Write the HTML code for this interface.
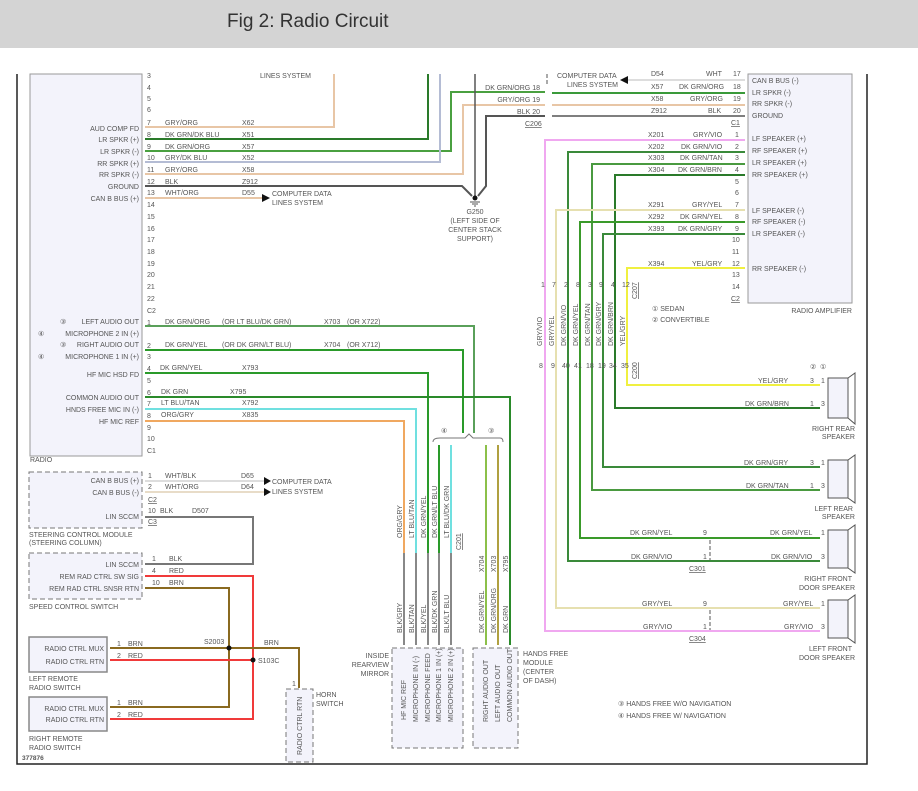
<!DOCTYPE html>
<html><head><meta charset="utf-8"><style>
html,body{margin:0;padding:0;background:#fff;}
svg{display:block;font-family:"Liberation Sans",Arial,sans-serif;}
text{font-size:7px;fill:#555;}
.e{text-anchor:end}
.w{fill:none;stroke-width:2}
</style></head><body>
<svg width="918" height="791" viewBox="0 0 918 791">
<rect x="0" y="0" width="918" height="48" fill="#d4d4d4"/>
<text x="227" y="27" style="font-size:19px;fill:#333">Fig 2: Radio Circuit</text>
<!-- frame -->
<path d="M17 74V764H867V74" fill="none" stroke="#222" stroke-width="1.5"/>
<!-- radio box -->
<rect x="30" y="74" width="112" height="382" fill="#f3f3fb" stroke="#999"/>
<text x="30" y="462">RADIO</text>
<!-- amplifier -->
<rect x="748" y="74" width="104" height="229" fill="#f3f3fb" stroke="#999"/>
<text x="852" y="313" class="e">RADIO AMPLIFIER</text>

<!-- radio C1 pins -->
<g>
<text x="147" y="78">3</text><text x="147" y="90">4</text><text x="147" y="101">5</text><text x="147" y="112">6</text>
<text x="147" y="125">7</text><text x="147" y="137">8</text><text x="147" y="149">9</text><text x="147" y="160">10</text>
<text x="147" y="172">11</text><text x="147" y="184">12</text><text x="147" y="195">13</text><text x="147" y="207">14</text>
<text x="147" y="219">15</text><text x="147" y="231">16</text><text x="147" y="242">17</text><text x="147" y="254">18</text>
<text x="147" y="266">19</text><text x="147" y="277">20</text><text x="147" y="289">21</text><text x="147" y="301">22</text>
<text x="147" y="313">C2</text>
<text x="147" y="325">1</text><text x="147" y="348">2</text><text x="147" y="359">3</text><text x="147" y="371">4</text>
<text x="147" y="383">5</text><text x="147" y="395">6</text><text x="147" y="406">7</text><text x="147" y="418">8</text>
<text x="147" y="430">9</text><text x="147" y="441">10</text><text x="147" y="453">C1</text>
</g>
<g>
<text x="139" y="131" class="e">AUD COMP FD</text>
<text x="139" y="142" class="e">LR SPKR (+)</text>
<text x="139" y="154" class="e">LR SPKR (-)</text>
<text x="139" y="166" class="e">RR SPKR (+)</text>
<text x="139" y="177" class="e">RR SPKR (-)</text>
<text x="139" y="189" class="e">GROUND</text>
<text x="139" y="201" class="e">CAN B BUS (+)</text>
<text x="139" y="324" class="e">LEFT AUDIO OUT</text>
<text x="139" y="336" class="e">MICROPHONE 2 IN (+)</text>
<text x="139" y="347" class="e">RIGHT AUDIO OUT</text>
<text x="139" y="359" class="e">MICROPHONE 1 IN (+)</text>
<text x="139" y="377" class="e">HF MIC HSD FD</text>
<text x="139" y="400" class="e">COMMON AUDIO OUT</text>
<text x="139" y="412" class="e">HNDS FREE MIC IN (-)</text>
<text x="139" y="424" class="e">HF MIC REF</text>
<text x="60" y="324">③</text><text x="38" y="336">④</text><text x="60" y="347">③</text><text x="38" y="359">④</text>
</g>
<!-- wire labels C1 -->
<g>
<text x="260" y="78">LINES SYSTEM</text>
<text x="165" y="125">GRY/ORG</text><text x="242" y="125">X62</text>
<text x="165" y="137">DK GRN/DK BLU</text><text x="242" y="137">X51</text>
<text x="165" y="149">DK GRN/ORG</text><text x="242" y="149">X57</text>
<text x="165" y="160">GRY/DK BLU</text><text x="242" y="160">X52</text>
<text x="165" y="172">GRY/ORG</text><text x="242" y="172">X58</text>
<text x="165" y="184">BLK</text><text x="242" y="184">Z912</text>
<text x="165" y="195">WHT/ORG</text><text x="242" y="195">D55</text>
<text x="272" y="196">COMPUTER DATA</text><text x="272" y="205">LINES SYSTEM</text>
<text x="165" y="324">DK GRN/ORG</text><text x="222" y="324">(OR LT BLU/DK GRN)</text><text x="324" y="324">X703</text><text x="347" y="324">(OR X722)</text>
<text x="165" y="347">DK GRN/YEL</text><text x="222" y="347">(OR DK GRN/LT BLU)</text><text x="324" y="347">X704</text><text x="347" y="347">(OR X712)</text>
<text x="160" y="370">DK GRN/YEL</text><text x="242" y="370">X793</text>
<text x="161" y="394">DK GRN</text><text x="230" y="394">X795</text>
<text x="161" y="405">LT BLU/TAN</text><text x="242" y="405">X792</text>
<text x="161" y="417">ORG/GRY</text><text x="242" y="417">X835</text>
</g>
<!-- C1 wires -->
<polyline class="w" points="145,127 334,127 334,74" stroke="#e8c6a6"/>
<polyline class="w" points="145,139 428,139 428,74" stroke="#2a7a2a"/>
<polyline class="w" points="145,151 451,151 451,92 545,92" stroke="#4aa040"/>
<polyline class="w" points="145,162 440,162 440,74" stroke="#b4bcd4"/>
<polyline class="w" points="145,174 463,174 463,105 545,105" stroke="#e8c6a6"/>
<polyline class="w" points="145,186 462,186 472,196" stroke="#555" stroke-width="1.5"/>
<polyline class="w" points="545,116 486,116 486,186 478,196" stroke="#555" stroke-width="1.5"/>
<line x1="475" y1="74" x2="475" y2="196" stroke="#555" stroke-width="1.5"/>
<circle cx="475" cy="198" r="2.5" fill="#111"/>
<path d="M470 202H480M472 204H478M474 206H476" stroke="#555"/>
<text x="475" y="214" style="text-anchor:middle">G250</text>
<text x="475" y="223" style="text-anchor:middle">(LEFT SIDE OF</text>
<text x="475" y="232" style="text-anchor:middle">CENTER STACK</text>
<text x="475" y="241" style="text-anchor:middle">SUPPORT)</text>
<polyline class="w" points="145,198 262,198" stroke="#e8c6a6"/>
<path d="M262 194L270 198L262 202Z" fill="#111"/>
<!-- C206 -->
<line x1="547" y1="74" x2="547" y2="84" stroke="#555" stroke-dasharray="4,2"/>
<text x="540" y="90" class="e">DK GRN/ORG  18</text>
<text x="540" y="102" class="e">GRY/ORG  19</text>
<text x="540" y="114" class="e">BLK  20</text>
<text x="525" y="126" style="text-decoration:underline">C206</text>
<text x="557" y="78">COMPUTER DATA</text><text x="567" y="87">LINES SYSTEM</text>
<path d="M620 80L628 76L628 84Z" fill="#111"/>
<line x1="628" y1="80" x2="745" y2="80" stroke="#ddd" stroke-width="2"/>
<line x1="552" y1="93" x2="745" y2="93" stroke="#3a9a3a" stroke-width="2"/>
<line x1="552" y1="105" x2="745" y2="105" stroke="#e8c6a6" stroke-width="2"/>
<line x1="552" y1="116" x2="745" y2="116" stroke="#555" stroke-width="1.5"/>
<text x="651" y="76">D54</text><text x="706" y="76">WHT</text><text x="733" y="76">17</text>
<text x="651" y="89">X57</text><text x="679" y="89">DK GRN/ORG</text><text x="733" y="89">18</text>
<text x="651" y="101">X58</text><text x="690" y="101">GRY/ORG</text><text x="733" y="101">19</text>
<text x="651" y="113">Z912</text><text x="708" y="113">BLK</text><text x="733" y="113">20</text>
<text x="731" y="125" style="text-decoration:underline">C1</text>
<!-- amp labels -->
<g>
<text x="752" y="83">CAN B BUS (-)</text><text x="752" y="95">LR SPKR (-)</text><text x="752" y="106">RR SPKR (-)</text><text x="752" y="118">GROUND</text>
<text x="752" y="141">LF SPEAKER (+)</text><text x="752" y="153">RF SPEAKER (+)</text><text x="752" y="165">LR SPEAKER (+)</text><text x="752" y="177">RR SPEAKER (+)</text>
<text x="752" y="213">LF SPEAKER (-)</text><text x="752" y="224">RF SPEAKER (-)</text><text x="752" y="236">LR SPEAKER (-)</text><text x="752" y="271">RR SPEAKER (-)</text>
<text x="735" y="137">1</text><text x="735" y="149">2</text><text x="735" y="160">3</text><text x="735" y="172">4</text><text x="735" y="184">5</text><text x="735" y="195">6</text>
<text x="735" y="207">7</text><text x="735" y="219">8</text><text x="735" y="231">9</text><text x="732" y="242">10</text><text x="732" y="254">11</text><text x="732" y="266">12</text>
<text x="732" y="277">13</text><text x="732" y="289">14</text><text x="731" y="301" style="text-decoration:underline">C2</text>
<text x="648" y="137">X201</text><text x="693" y="137">GRY/VIO</text>
<text x="648" y="149">X202</text><text x="681" y="149">DK GRN/VIO</text>
<text x="648" y="160">X303</text><text x="680" y="160">DK GRN/TAN</text>
<text x="648" y="172">X304</text><text x="678" y="172">DK GRN/BRN</text>
<text x="648" y="207">X291</text><text x="692" y="207">GRY/YEL</text>
<text x="648" y="219">X292</text><text x="680" y="219">DK GRN/YEL</text>
<text x="648" y="231">X393</text><text x="678" y="231">DK GRN/GRY</text>
<text x="648" y="266">X394</text><text x="692" y="266">YEL/GRY</text>
</g>
<!-- bus -->
<polyline class="w" points="745,140 545,140 545,631 820,631" stroke="#f0a8f0"/>
<polyline class="w" points="745,152 568,152 568,561 820,561" stroke="#3a8a3a"/>
<polyline class="w" points="745,164 592,164 592,490 820,490" stroke="#4a9a40"/>
<polyline class="w" points="745,175 615,175 615,408 820,408" stroke="#2a7a2a"/>
<polyline class="w" points="745,210 556,210 556,608 820,608" stroke="#e6e0b0"/>
<polyline class="w" points="745,222 580,222 580,538 820,538" stroke="#3a9a2a"/>
<polyline class="w" points="745,234 603,234 603,467 820,467" stroke="#3a8a3a"/>
<polyline class="w" points="745,268 627,268 627,385 820,385" stroke="#f0f040"/>
<g>
<text x="541" y="287">1</text><text x="552" y="287">7</text><text x="564" y="287">2</text><text x="576" y="287">8</text><text x="588" y="287">3</text><text x="599" y="287">9</text><text x="611" y="287">4</text><text x="622" y="287">12</text>
<text x="539" y="368">8</text><text x="551" y="368">9</text><text x="562" y="368">40</text><text x="574" y="368">41</text><text x="586" y="368">18</text><text x="598" y="368">19</text><text x="609" y="368">34</text><text x="621" y="368">35</text>
<text transform="translate(637,299) rotate(-90)" style="text-decoration:underline">C207</text>
<text transform="translate(637,379) rotate(-90)" style="text-decoration:underline">C200</text>
<text transform="translate(542,346) rotate(-90)">GRY/VIO</text>
<text transform="translate(554,346) rotate(-90)">GRY/YEL</text>
<text transform="translate(566,346) rotate(-90)">DK GRN/VIO</text>
<text transform="translate(578,346) rotate(-90)">DK GRN/YEL</text>
<text transform="translate(590,346) rotate(-90)">DK GRN/TAN</text>
<text transform="translate(601,346) rotate(-90)">DK GRN/GRY</text>
<text transform="translate(613,346) rotate(-90)">DK GRN/BRN</text>
<text transform="translate(625,346) rotate(-90)">YEL/GRY</text>
<text x="652" y="311">① SEDAN</text><text x="652" y="322">② CONVERTIBLE</text>
</g>
<!-- speakers -->
<g fill="#f3f3fb" stroke="#555">
<rect x="828" y="378" width="20" height="40"/><path d="M848 378L855 373V424L848 418" fill="none"/>
<rect x="828" y="460" width="20" height="38"/><path d="M848 460L855 455V503L848 498" fill="none"/>
<rect x="828" y="530" width="20" height="38"/><path d="M848 530L855 525V573L848 568" fill="none"/>
<rect x="828" y="600" width="20" height="38"/><path d="M848 600L855 595V643L848 638" fill="none"/>
</g>
<g>
<text x="810" y="369">②</text><text x="820" y="369">①</text>
<text x="810" y="383">3</text><text x="821" y="383">1</text>
<text x="758" y="383">YEL/GRY</text>
<text x="745" y="406">DK GRN/BRN</text><text x="810" y="406">1</text><text x="821" y="406">3</text>
<text x="855" y="431" class="e">RIGHT REAR</text><text x="855" y="439" class="e">SPEAKER</text>
<text x="744" y="465">DK GRN/GRY</text><text x="810" y="465">3</text><text x="821" y="465">1</text>
<text x="746" y="488">DK GRN/TAN</text><text x="810" y="488">1</text><text x="821" y="488">3</text>
<text x="853" y="511" class="e">LEFT REAR</text><text x="855" y="519" class="e">SPEAKER</text>
<text x="630" y="535">DK GRN/YEL</text><text x="703" y="535">9</text><text x="770" y="535">DK GRN/YEL</text><text x="821" y="535">1</text>
<text x="631" y="559">DK GRN/VIO</text><text x="703" y="559">1</text><text x="771" y="559">DK GRN/VIO</text><text x="821" y="559">3</text>
<text x="689" y="571" style="text-decoration:underline">C301</text>
<text x="852" y="581" class="e">RIGHT FRONT</text><text x="855" y="590" class="e">DOOR SPEAKER</text>
<text x="642" y="606">GRY/YEL</text><text x="703" y="606">9</text><text x="783" y="606">GRY/YEL</text><text x="821" y="606">1</text>
<text x="643" y="629">GRY/VIO</text><text x="703" y="629">1</text><text x="784" y="629">GRY/VIO</text><text x="821" y="629">3</text>
<text x="689" y="641" style="text-decoration:underline">C304</text>
<text x="852" y="651" class="e">LEFT FRONT</text><text x="855" y="660" class="e">DOOR SPEAKER</text>
<text x="618" y="706">③ HANDS FREE W/O NAVIGATION</text>
<text x="618" y="718">④ HANDS FREE W/ NAVIGATION</text>
</g>
<line x1="710" y1="540" x2="710" y2="560" stroke="#555" stroke-dasharray="4,2"/>
<line x1="710" y1="610" x2="710" y2="630" stroke="#555" stroke-dasharray="4,2"/>
<!-- C2 radio wires -->
<polyline class="w" points="145,326 474,326 474,433" stroke="#5aa05a"/>
<polyline class="w" points="145,350 463,350 463,433" stroke="#2a9a2a"/>
<polyline class="w" points="145,373 428,373 428,553" stroke="#2a9a2a"/>
<polyline class="w" points="145,397 510,397 510,645" stroke="#2a8a2a"/>
<polyline class="w" points="145,409 416,409 416,553" stroke="#70e0e0"/>
<polyline class="w" points="145,421 404,421 404,553" stroke="#f0a860"/>
<path d="M433 442 Q433 438 440 438 H465 L469 434 L473 438 H500 Q503 438 503 442" fill="none" stroke="#777"/>
<text x="441" y="433">④</text><text x="488" y="433">③</text>
<line x1="439" y1="445" x2="439" y2="553" stroke="#2a9a2a" stroke-width="2"/>
<line x1="451" y1="445" x2="451" y2="553" stroke="#70e0e0" stroke-width="2"/>
<line x1="486" y1="445" x2="486" y2="645" stroke="#8cc04a" stroke-width="2"/>
<line x1="498" y1="445" x2="498" y2="645" stroke="#b0a040" stroke-width="2"/>
<g stroke="#888" stroke-width="2">
<line x1="404" y1="553" x2="404" y2="645"/><line x1="416" y1="553" x2="416" y2="645"/><line x1="428" y1="553" x2="428" y2="645"/><line x1="439" y1="553" x2="439" y2="645"/><line x1="451" y1="553" x2="451" y2="645"/>
</g>
<g>
<text transform="translate(402,538) rotate(-90)">ORG/GRY</text>
<text transform="translate(414,538) rotate(-90)">LT BLU/TAN</text>
<text transform="translate(426,538) rotate(-90)">DK GRN/YEL</text>
<text transform="translate(437,538) rotate(-90)">DK GRN/LT BLU</text>
<text transform="translate(449,538) rotate(-90)">LT BLU/DK GRN</text>
<text transform="translate(461,550) rotate(-90)" style="text-decoration:underline">C201</text>
<text transform="translate(402,633) rotate(-90)">BLK/GRY</text>
<text transform="translate(414,633) rotate(-90)">BLK/TAN</text>
<text transform="translate(426,633) rotate(-90)">BLK/YEL</text>
<text transform="translate(437,633) rotate(-90)">BLK/DK GRN</text>
<text transform="translate(449,633) rotate(-90)">BLK/LT BLU</text>
<text transform="translate(484,572) rotate(-90)">X704</text>
<text transform="translate(496,572) rotate(-90)">X703</text>
<text transform="translate(508,572) rotate(-90)">X795</text>
<text transform="translate(484,633) rotate(-90)">DK GRN/YEL</text>
<text transform="translate(496,633) rotate(-90)">DK GRN/ORG</text>
<text transform="translate(508,633) rotate(-90)">DK GRN</text>
</g>
<rect x="392" y="648" width="71" height="100" fill="#f3f3fb" stroke="#777" stroke-dasharray="5,3"/>
<rect x="473" y="648" width="45" height="100" fill="#f3f3fb" stroke="#777" stroke-dasharray="5,3"/>
<g>
<text transform="translate(406,720) rotate(-90)">HF MIC REF</text>
<text transform="translate(418,722) rotate(-90)">MICROPHONE IN (-)</text>
<text transform="translate(430,722) rotate(-90)">MICROPHONE FEED</text>
<text transform="translate(441,722) rotate(-90)">MICROPHONE 1 IN (+)</text>
<text transform="translate(453,722) rotate(-90)">MICROPHONE 2 IN (+)</text>
<text transform="translate(488,722) rotate(-90)">RIGHT AUDIO OUT</text>
<text transform="translate(500,722) rotate(-90)">LEFT AUDIO OUT</text>
<text transform="translate(512,722) rotate(-90)">COMMON AUDIO OUT</text>
<text x="389" y="658" class="e">INSIDE</text><text x="389" y="667" class="e">REARVIEW</text><text x="389" y="676" class="e">MIRROR</text>
<text x="523" y="656">HANDS FREE</text><text x="523" y="665">MODULE</text><text x="523" y="674">(CENTER</text><text x="523" y="683">OF DASH)</text>
</g>
<!-- bottom left -->
<rect x="29" y="472" width="113" height="56" fill="#f3f3fb" stroke="#777" stroke-dasharray="5,3"/>
<rect x="29" y="553" width="113" height="46" fill="#f3f3fb" stroke="#777" stroke-dasharray="5,3"/>
<rect x="29" y="637" width="78" height="35" fill="#f3f3fb" stroke="#888" stroke-width="1.5"/>
<rect x="29" y="697" width="78" height="34" fill="#f3f3fb" stroke="#888" stroke-width="1.5"/>
<rect x="286" y="689" width="27" height="73" fill="#f3f3fb" stroke="#777" stroke-dasharray="5,3"/>
<g>
<text x="139" y="483" class="e">CAN B BUS (+)</text><text x="139" y="495" class="e">CAN B BUS (-)</text><text x="139" y="519" class="e">LIN SCCM</text>
<text x="148" y="478">1</text><text x="165" y="478">WHT/BLK</text><text x="241" y="478">D65</text>
<text x="148" y="489">2</text><text x="165" y="489">WHT/ORG</text><text x="241" y="489">D64</text>
<text x="148" y="502" style="text-decoration:underline">C2</text>
<text x="148" y="513">10</text><text x="160" y="513">BLK</text><text x="192" y="513">D507</text>
<text x="148" y="524" style="text-decoration:underline">C3</text>
<text x="272" y="484">COMPUTER DATA</text><text x="272" y="494">LINES SYSTEM</text>
<text x="29" y="537">STEERING CONTROL MODULE</text><text x="29" y="545">(STEERING COLUMN)</text>
<text x="139" y="567" class="e">LIN SCCM</text><text x="139" y="579" class="e">REM RAD CTRL SW SIG</text><text x="139" y="591" class="e">REM RAD CTRL SNSR RTN</text>
<text x="152" y="561">1</text><text x="169" y="561">BLK</text>
<text x="152" y="573">4</text><text x="169" y="573">RED</text>
<text x="152" y="585">10</text><text x="169" y="585">BRN</text>
<text x="29" y="609">SPEED CONTROL SWITCH</text>
<text x="104" y="651" class="e">RADIO CTRL MUX</text><text x="104" y="664" class="e">RADIO CTRL RTN</text>
<text x="117" y="646">1</text><text x="128" y="646">BRN</text><text x="117" y="658">2</text><text x="128" y="658">RED</text>
<text x="29" y="681">LEFT REMOTE</text><text x="29" y="690">RADIO SWITCH</text>
<text x="104" y="711" class="e">RADIO CTRL MUX</text><text x="104" y="722" class="e">RADIO CTRL RTN</text>
<text x="117" y="705">1</text><text x="128" y="705">BRN</text><text x="117" y="717">2</text><text x="128" y="717">RED</text>
<text x="29" y="741">RIGHT REMOTE</text><text x="29" y="750">RADIO SWITCH</text>
<text x="22" y="760" style="font-weight:bold;font-size:6.5px">377876</text>
<text x="204" y="644">S2003</text><text x="258" y="663">S103C</text><text x="264" y="645">BRN</text>
<text x="292" y="686">1</text>
<text x="316" y="697">HORN</text><text x="316" y="706">SWITCH</text>
<text transform="translate(302,755) rotate(-90)">RADIO CTRL RTN</text>
</g>
<line x1="145" y1="481" x2="264" y2="481" stroke="#ddd" stroke-width="2"/>
<line x1="145" y1="492" x2="264" y2="492" stroke="#e8dcc8" stroke-width="2"/>
<path d="M264 477L271 481L264 485Z M264 488L271 492L264 496Z" fill="#111"/>
<polyline class="w" points="145,517 253,517 253,564 145,564" stroke="#777"/>
<polyline class="w" points="145,576 253,576 253,719 110,719" stroke="#f03a3a"/>
<polyline class="w" points="145,588 229,588 229,707 110,707" stroke="#8a6a20"/>
<polyline class="w" points="110,648 299,648 299,688" stroke="#8a6a20"/>
<polyline class="w" points="110,660 253,660" stroke="#f03a3a"/>
<circle cx="229" cy="648" r="2.5" fill="#111"/>
<circle cx="253" cy="660" r="2.5" fill="#111"/>
</svg>
</body></html>
